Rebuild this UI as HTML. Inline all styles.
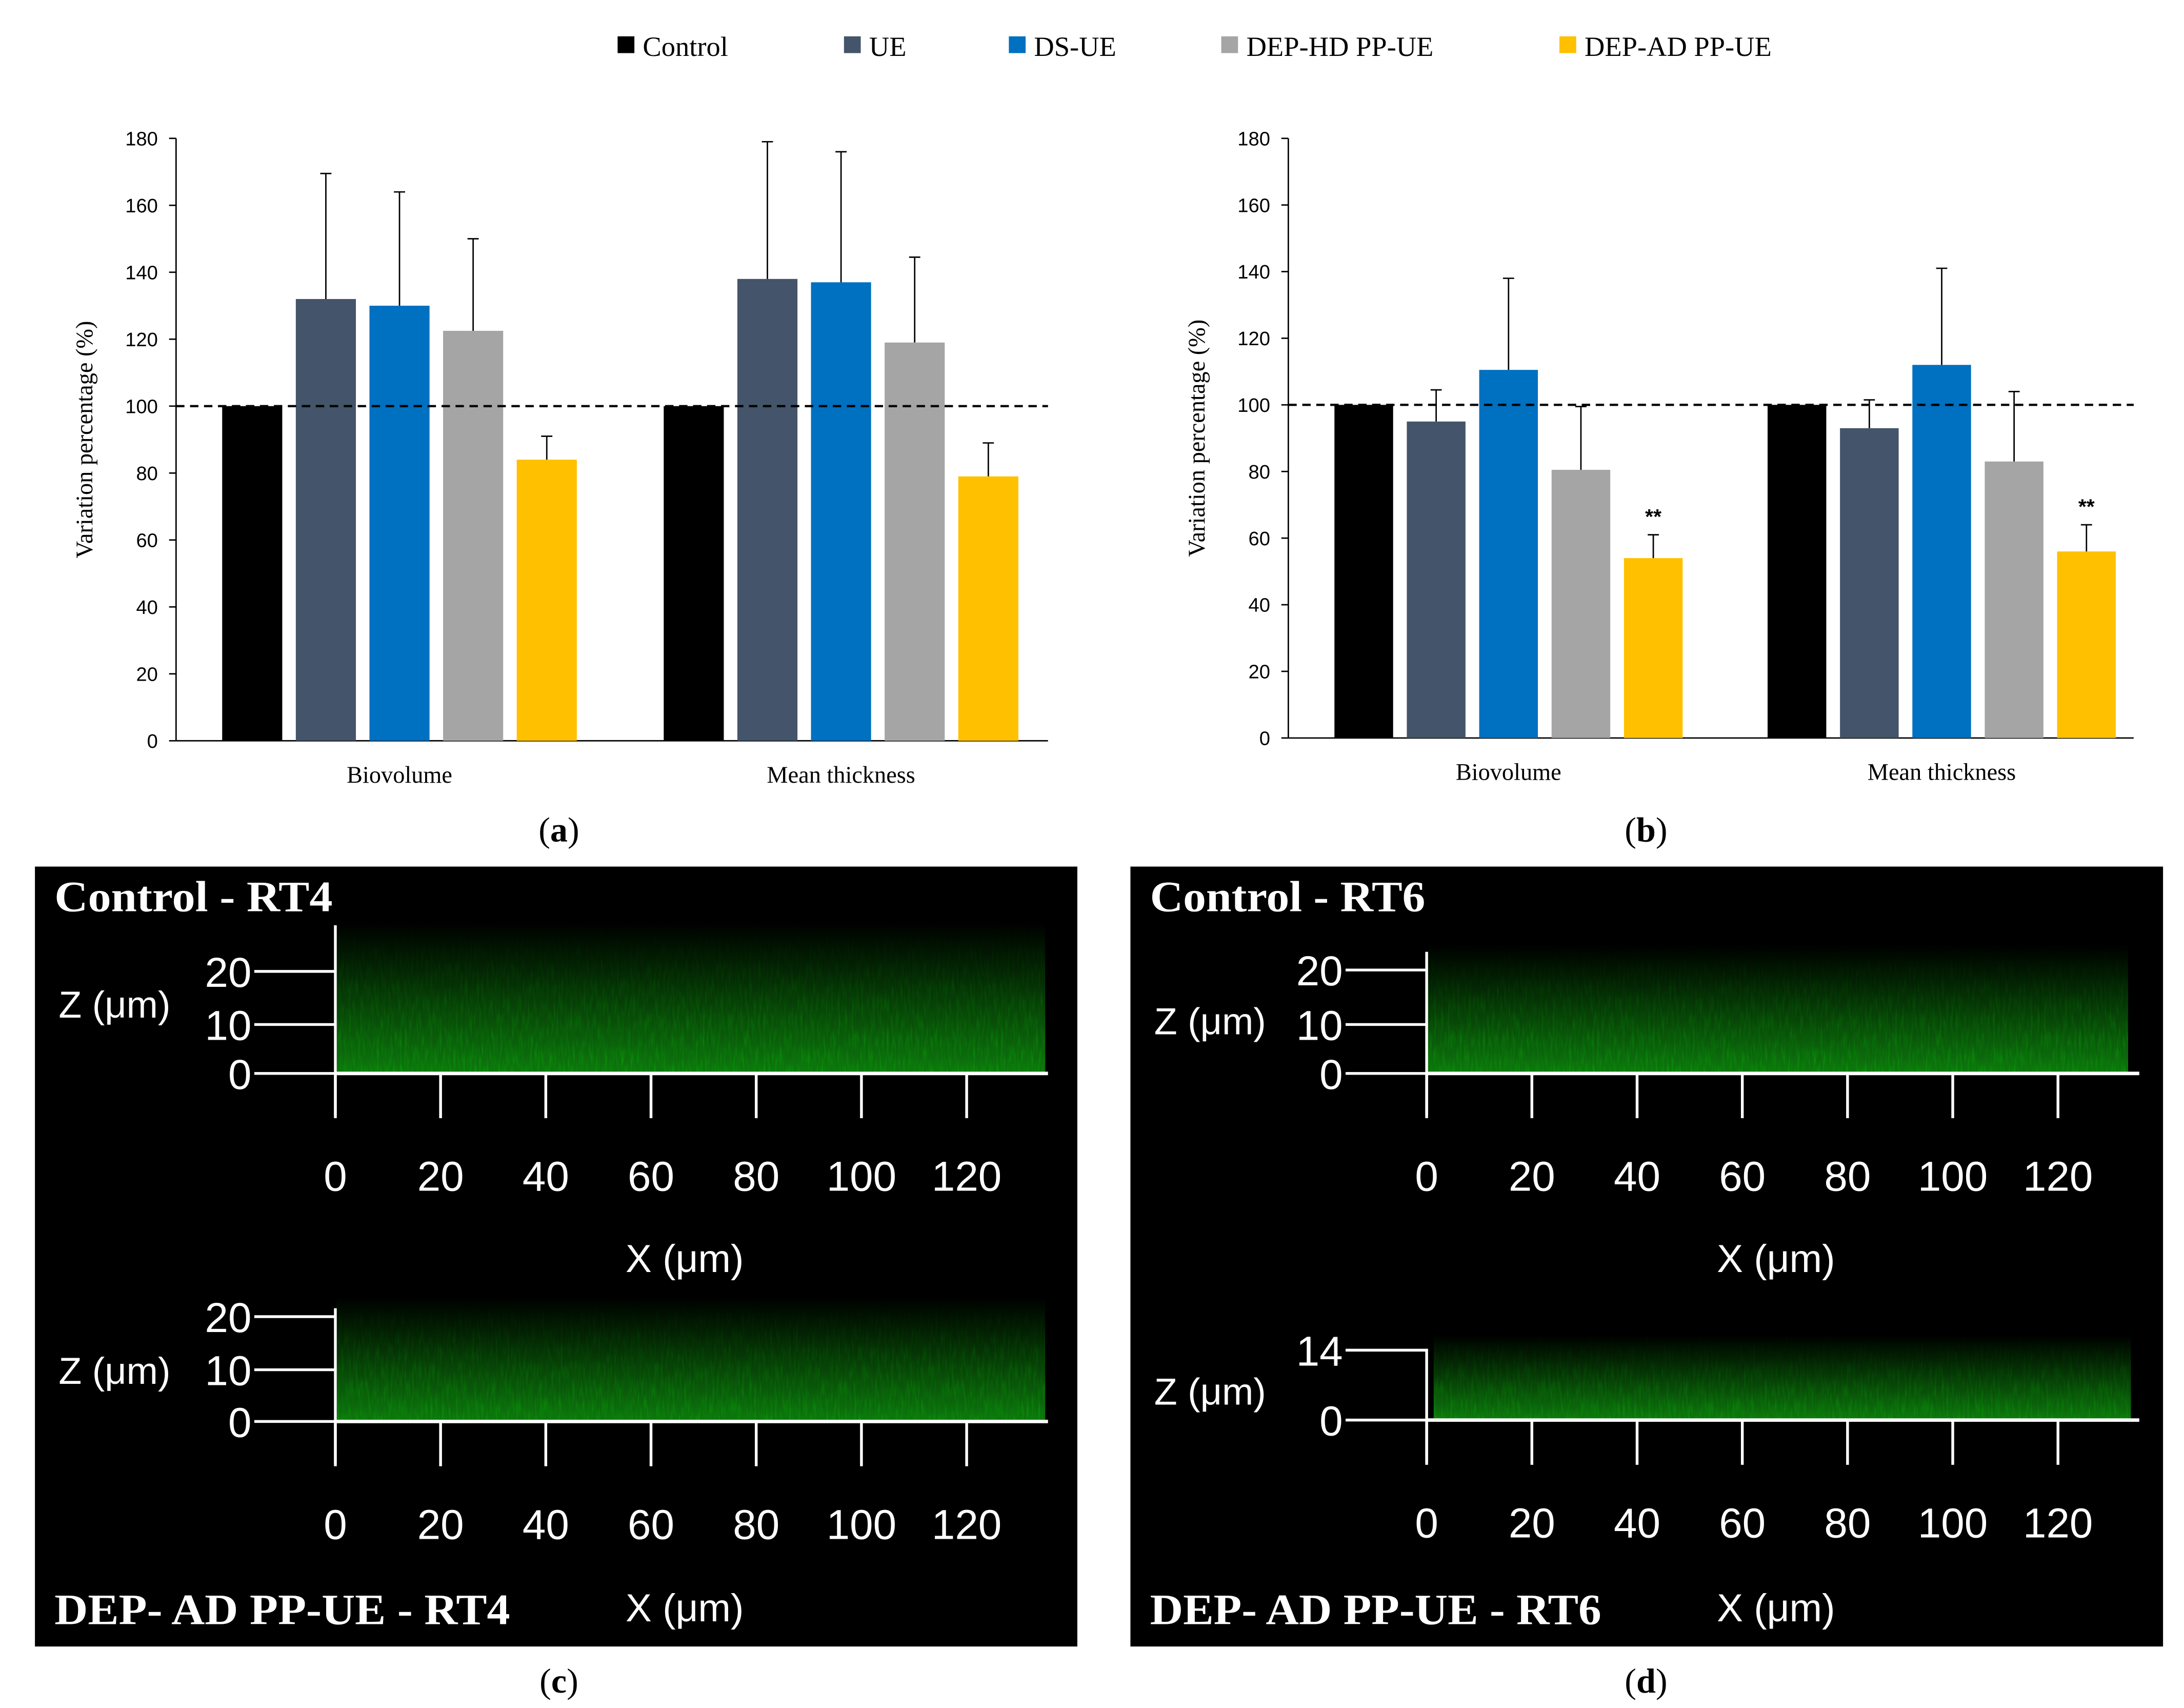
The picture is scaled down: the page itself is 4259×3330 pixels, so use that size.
<!DOCTYPE html>
<html><head><meta charset="utf-8"><style>html,body{margin:0;padding:0;background:#fff}svg{display:block}</style></head>
<body>
<svg id="fig" xmlns="http://www.w3.org/2000/svg" width="4259" height="3330" viewBox="0 0 1563 1222" preserveAspectRatio="none">
<defs>
<linearGradient id="gv" x1="0" y1="0" x2="0" y2="1"><stop offset="0" stop-color="#000"/><stop offset="0.3" stop-color="#042204"/><stop offset="1" stop-color="#0e780e"/></linearGradient>
<linearGradient id="mg" x1="0" y1="0" x2="0" y2="1"><stop offset="0" stop-color="#000"/><stop offset="0.25" stop-color="#333"/><stop offset="1" stop-color="#fff"/></linearGradient>
<mask id="fade" maskContentUnits="objectBoundingBox"><rect x="0" y="0" width="1" height="1" fill="url(#mg)"/></mask>
<filter id="noise" x="0" y="0" width="100%" height="100%"><feTurbulence type="fractalNoise" baseFrequency="0.6 0.08" numOctaves="2" seed="3"/><feColorMatrix type="matrix" values="0 0 0 0 0  0 0 0 0.9 0  0 0 0 0 0  0 0 0 0.9 -0.3"/><feComposite in2="SourceGraphic" operator="in"/></filter>
</defs>
<g id="legend" font-family="Liberation Serif, serif" font-size="20" fill="#000"></g>
<g id="chartA"></g>
<g id="chartB"></g>
<g font-family="Liberation Serif, serif" font-size="25" text-anchor="middle">
<text x="400" y="602">(<tspan font-weight="bold">a</tspan>)</text>
<text x="1178" y="602">(<tspan font-weight="bold">b</tspan>)</text>
<text x="400" y="1211">(<tspan font-weight="bold">c</tspan>)</text>
<text x="1178" y="1211">(<tspan font-weight="bold">d</tspan>)</text>
</g>
<g id="panelC"></g>
<g id="panelD"></g>
</svg>
<script>
const NS='http://www.w3.org/2000/svg';
const seriesNames=['Control','UE','DS-UE','DEP-HD PP-UE','DEP-AD PP-UE'];
const colors=['#000000','#44546a','#0070c0','#a5a5a5','#ffc000'];
const categories=['Biovolume','Mean thickness'];
const aValues=[[100,132,130,122.5,84],[100,138,137,119,79]];
const aErrTop=[[null,169.5,164,150,91],[null,179,176,144.5,89]];
const bValues=[[100,95,110.5,80.5,54],[100,93,112,83,56]];
const bErrTop=[[null,104.5,138,99.5,61],[null,101.5,141,104,64]];
const bStars=[[null,null,null,null,'**'],[null,null,null,null,'**']];
const yTicks=[0,20,40,60,80,100,120,140,160,180];
const legendX=[442,604,722,874,1116];
function el(p,t,a,txt){const e=document.createElementNS(NS,t);for(const k in a)e.setAttribute(k,a[k]);if(txt!=null)e.textContent=txt;p.appendChild(e);return e;}
const lg=document.getElementById('legend');
seriesNames.forEach((n,i)=>{
  const r=el(lg,'rect',{x:legendX[i],y:26,width:12,height:12,fill:colors[i]});
  
  
  const t=el(lg,'text',{x:legendX[i]+18,y:40},n);
  
  
});
function chart(g,cfg,vals,errs,stars){
  const y=v=>cfg.y0-(v/180)*(cfg.y0-cfg.y180);
  el(g,'line',{x1:cfg.ax,y1:cfg.y180,x2:cfg.ax,y2:cfg.y0,stroke:'#000','stroke-width':1});
  el(g,'line',{x1:cfg.ax,y1:cfg.y0,x2:cfg.xend,y2:cfg.y0,stroke:'#000','stroke-width':1});
  yTicks.forEach(v=>{
    el(g,'line',{x1:cfg.ax-5,y1:y(v),x2:cfg.ax,y2:y(v),stroke:'#000'});
    const t=el(g,'text',{x:cfg.ax-13,y:y(v)+5,'text-anchor':'end','font-family':'Liberation Sans, sans-serif','font-size':14},v);
    
    
  });
  const yt=el(g,'text',{transform:`translate(${cfg.ax-60},${(cfg.y0+cfg.y180)/2}) rotate(-90)`,'text-anchor':'middle','font-family':'Liberation Serif, serif','font-size':17},'Variation percentage (%)');
  
  
  vals.forEach((gv,gi)=>{
    gv.forEach((v,si)=>{
      const x=cfg.g0+gi*cfg.gOff+si*cfg.step;
      const r=el(g,'rect',{x:x,y:y(v),width:cfg.bw,height:y(0)-y(v),fill:colors[si]});
      
      
      if(errs[gi][si]!=null){
        const cx=x+cfg.bw/2;
        el(g,'line',{x1:cx,y1:y(v),x2:cx,y2:y(errs[gi][si]),stroke:'#000','stroke-width':1});
        el(g,'line',{x1:cx-4,y1:y(errs[gi][si]),x2:cx+4,y2:y(errs[gi][si]),stroke:'#000','stroke-width':1});
      }
      if(stars&&stars[gi][si]){
        const s=el(g,'text',{x:x+cfg.bw/2,y:y(errs[gi][si])-8,'text-anchor':'middle','font-family':'Liberation Sans, sans-serif','font-size':15,'font-weight':'bold'},stars[gi][si]);
        
        
      }
    });
    const c=el(g,'text',{x:cfg.g0+gi*cfg.gOff+2*cfg.step+cfg.bw/2,y:cfg.y0+30,'text-anchor':'middle','font-family':'Liberation Serif, serif','font-size':17},categories[gi]);
    
    
  });
  const d=el(g,'line',{x1:cfg.ax,y1:y(100),x2:cfg.xend,y2:y(100),stroke:'#000','stroke-width':1.6,'stroke-dasharray':'6,4'});
  
  
}
chart(document.getElementById('chartA'),{ax:126,y0:530,y180:99,xend:750,g0:159,gOff:316,step:52.7,bw:43},aValues,aErrTop,null);
chart(document.getElementById('chartB'),{ax:922,y0:528,y180:99,xend:1527,g0:955,gOff:310,step:51.8,bw:42},bValues,bErrTop,bStars);
function panel(g,o){
  el(g,'rect',{x:o.x0,y:620,width:o.w,height:558,fill:'#000'});
  const sf={'font-family':'Liberation Sans, sans-serif',fill:'#fff','font-size':30};
  const T=(x,y,s,a)=>{const t=el(g,'text',Object.assign({x:x,y:y},sf,a||{}),s);return t;};
  let t=el(g,'text',{x:o.x0+14,y:652,fill:'#fff','font-family':'Liberation Serif, serif','font-size':31,'font-weight':'bold',textLength:o.l1,lengthAdjust:'spacingAndGlyphs'},o.t1);
  
  t=el(g,'text',{x:o.x0+14,y:1162,fill:'#fff','font-family':'Liberation Serif, serif','font-size':31,'font-weight':'bold',textLength:o.l2,lengthAdjust:'spacingAndGlyphs'},o.t2);
  
  o.plots.forEach(p=>{
    el(g,'rect',{x:p.gx,y:p.gy,width:p.gw,height:p.y0-p.gy,fill:'url(#gv)'});
    el(g,'rect',{x:p.gx,y:p.gy,width:p.gw,height:p.y0-p.gy,fill:'#33ff33',filter:'url(#noise)',opacity:0.6,mask:'url(#fade)'});
    el(g,'line',{x1:o.ax,y1:p.ytop,x2:o.ax,y2:p.y0+30,stroke:'#fff','stroke-width':2});
    el(g,'line',{x1:o.ax,y1:p.y0,x2:o.ax+510,y2:p.y0,stroke:'#fff','stroke-width':2.5});
    p.zt.forEach(z=>{el(g,'line',{x1:o.ax-58,y1:z[1],x2:o.ax,y2:z[1],stroke:'#fff','stroke-width':2});T(o.ax-60,z[1]+11,z[0],{'text-anchor':'end'});});
    T(o.x0+17,p.zy,'Z (μm)',{'font-size':27});
    [0,20,40,60,80,100,120].forEach((v,i)=>{const x=o.ax+i*75.3;el(g,'line',{x1:x,y1:p.y0,x2:x,y2:p.y0+32,stroke:'#fff','stroke-width':2});T(x,p.y0+84,v,{'text-anchor':'middle'});});
  });
  T(o.ax+250,910,'X (μm)',{'text-anchor':'middle','font-size':28});
  T(o.ax+250,1160,'X (μm)',{'text-anchor':'middle','font-size':28});
}
panel(document.getElementById('panelC'),{x0:25,w:746,ax:240,t1:'Control - RT4',t2:'DEP- AD PP-UE - RT4',l1:199,l2:326,plots:[
 {gx:241,gy:660,gw:507,y0:768,ytop:662,zy:728,zt:[['20',695],['10',733],['0',768]]},
 {gx:241,gy:928,gw:507,y0:1017,ytop:936,zy:990,zt:[['20',942],['10',980],['0',1017]]}]});
panel(document.getElementById('panelD'),{x0:809,w:739,ax:1021,t1:'Control - RT6',t2:'DEP- AD PP-UE - RT6',l1:197,l2:323,plots:[
 {gx:1022,gy:676,gw:501,y0:768,ytop:681,zy:740,zt:[['20',694],['10',733],['0',768]]},
 {gx:1026,gy:955,gw:499,y0:1016,ytop:965,zy:1005,zt:[['14',966],['0',1016]]}]});
</script>
</body></html>
